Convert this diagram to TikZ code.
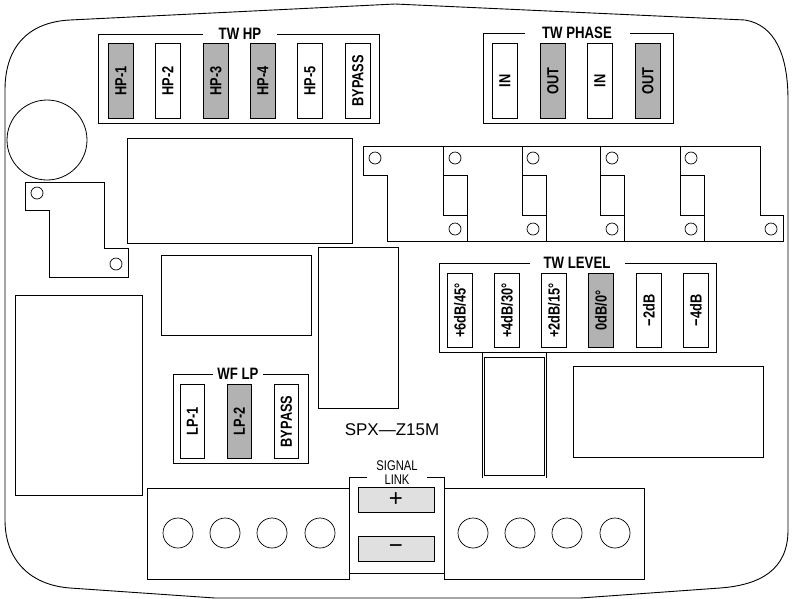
\documentclass[tikz,border=0pt]{standalone}
\usepackage{fontspec}
\setmainfont{Liberation Sans}[BoldFont={Liberation Sans Bold}]
\newcommand{\cond}[1]{\scalebox{0.8}[1]{#1}}
\tikzset{
    board/.style={draw=black, line width=0.9pt},
    part/.style={draw=black, line width=0.8pt},
    switch/.style={draw=black, line width=0.8pt, fill=white, minimum width=25pt, minimum height=75pt,
        inner sep=0pt, anchor=north west},
    switch on/.style={switch, fill=black!30},
    sw label/.style={rotate=90, font=\fontsize{16}{16}\selectfont\bfseries},
    group title/.style={font=\fontsize{16.5}{16}\selectfont\bfseries, inner sep=0pt, fill=white},
    hole/.style={draw=black, line width=0.7pt, fill=white},
    button/.style={draw=black, line width=0.8pt, fill=black!12, minimum width=76pt, minimum height=25pt, inner sep=0pt}
}
\begin{document}
\begin{tikzpicture}[x=1pt, y=-1pt]
\useasboundingbox (0,0) rectangle (792,598);

% Contorno de la placa.
\draw[board] (5,90) .. controls (5,45) and (30,22) .. (70,20) -- (395,4) -- (745,20)
    .. controls (775,25) and (788,55) .. (788,100) -- (788,530)
    .. controls (788,570) and (760,585) .. (720,588) -- (580,598) -- (215,598) -- (70,588)
    .. controls (30,585) and (5,560) .. (5,520) -- cycle;

% Componentes sueltos.
\draw[part] (47,140) circle (40);
\draw[part] (25,182) -- (104,182) -- (104,248) -- (128,248) -- (128,277) -- (49,277) -- (49,210) -- (25,210) -- cycle;
\draw[hole] (37,193) circle (6);
\draw[hole] (116,264) circle (6);
\draw[part] (127,138) rectangle (352,243);
\draw[part] (161,255) rectangle (311,335);
\draw[part] (318,247) rectangle (398,408);
\draw[part] (15,295) rectangle (142,495);
\draw[part] (573,366) rectangle (763,457);
\draw[part] (484,357) rectangle (544,475);
\draw[part] (482,353) -- (482,478);
\draw[part] (546,353) -- (546,478);

% Disipadores de la derecha.
\draw[part] (363,146) -- (760,146) -- (760,215) -- (783,215) -- (783,241) -- (387,241) -- (387,175) -- (363,175) -- cycle;
\foreach \x in {443,522,600,680} {
    \draw[part] (\x,146) -- (\x,215) -- (\x+24,215) -- (\x+24,241);
    \draw[part] (\x,175) -- (\x+24,175) -- (\x+24,215);
}
\foreach \x in {375,455,533,612,691} \draw[hole] (\x,158) circle (6);
\foreach \x in {455,533,612,691,771} \draw[hole] (\x,229) circle (6);

% TW HP
\draw[part] (203,34) -- (98,34) -- (98,123) -- (379,123) -- (379,34) -- (277,34);
\node[group title] (twhp) at (240,34) {\cond{TW HP}};
\foreach \x/\t/\s [count=\i] in {108/HP-1/switch on, 155/HP-2/switch, 203/HP-3/switch on,
        250/HP-4/switch on, 297/HP-5/switch, 345/BYPASS/switch} {
    \node[\s] (hp\i) at (\x,43) {};
    \node[sw label] at (hp\i.center) {\cond{\t}};
}

% TW PHASE
\draw[part] (525,33) -- (483,33) -- (483,123) -- (673,123) -- (673,33) -- (630,33);
\node[group title] (twphase) at (577,33) {\cond{TW PHASE}};
\foreach \x/\t/\s [count=\i] in {492/IN/switch, 540/OUT/switch on, 587/IN/switch, 635/OUT/switch on} {
    \node[\s] (ph\i) at (\x,43) {};
    \node[sw label] at (ph\i.center) {\cond{\t}};
}

% TW LEVEL
\draw[part] (530,263) -- (439,263) -- (439,352) -- (716,352) -- (716,263) -- (625,263);
\node[group title] (twlevel) at (577,263) {\cond{TW LEVEL}};
\foreach \x/\t/\s [count=\i] in {447/{+6dB/45°}/switch, 494/{+4dB/30°}/switch, 541/{+2dB/15°}/switch,
        588/{0dB/0°}/switch on, 636/{−2dB}/switch, 683/{−4dB}/switch} {
    \node[\s, minimum height=74pt] (lv\i) at (\x,273) {};
    \node[sw label] at (lv\i.center) {\cond{\t}};
}

% WF LP
\draw[part] (213,374) -- (173,374) -- (173,463) -- (308,463) -- (308,374) -- (263,374);
\node[group title] (wflp) at (238,374) {\cond{WF LP}};
\foreach \x/\t/\s [count=\i] in {180/LP-1/switch, 227/LP-2/switch on, 274/BYPASS/switch} {
    \node[\s, minimum width=24pt, minimum height=74pt] (lp\i) at (\x,384) {};
    \node[sw label] at (lp\i.center) {\cond{\t}};
}

\node[font=\fontsize{17}{17}\selectfont, inner sep=0pt] (model) at (392,430) {SPX—Z15M};

% Bornes y SIGNAL LINK.
\draw[part] (147,488) rectangle (349,579);
\draw[part] (444,488) rectangle (644,579);
\foreach \x in {178,225,272,320,473,520,567,615} \draw[hole] (\x,533) circle (15);
\draw[part] (367,477) -- (349,477) -- (349,573) -- (444,573) -- (444,477) -- (427,477);
\node[font=\fontsize{14}{14}\selectfont, inner sep=0pt] (signal) at (397,466) {\cond{SIGNAL}};
\node[font=\fontsize{14}{14}\selectfont, inner sep=0pt] (link) at (397,480) {\cond{LINK}};
\node[button] (plus) at (396,500) {\fontsize{24}{24}\selectfont +};
\node[button] (minus) at (396,549) {\fontsize{24}{24}\selectfont −};

\end{tikzpicture}
\end{document}
